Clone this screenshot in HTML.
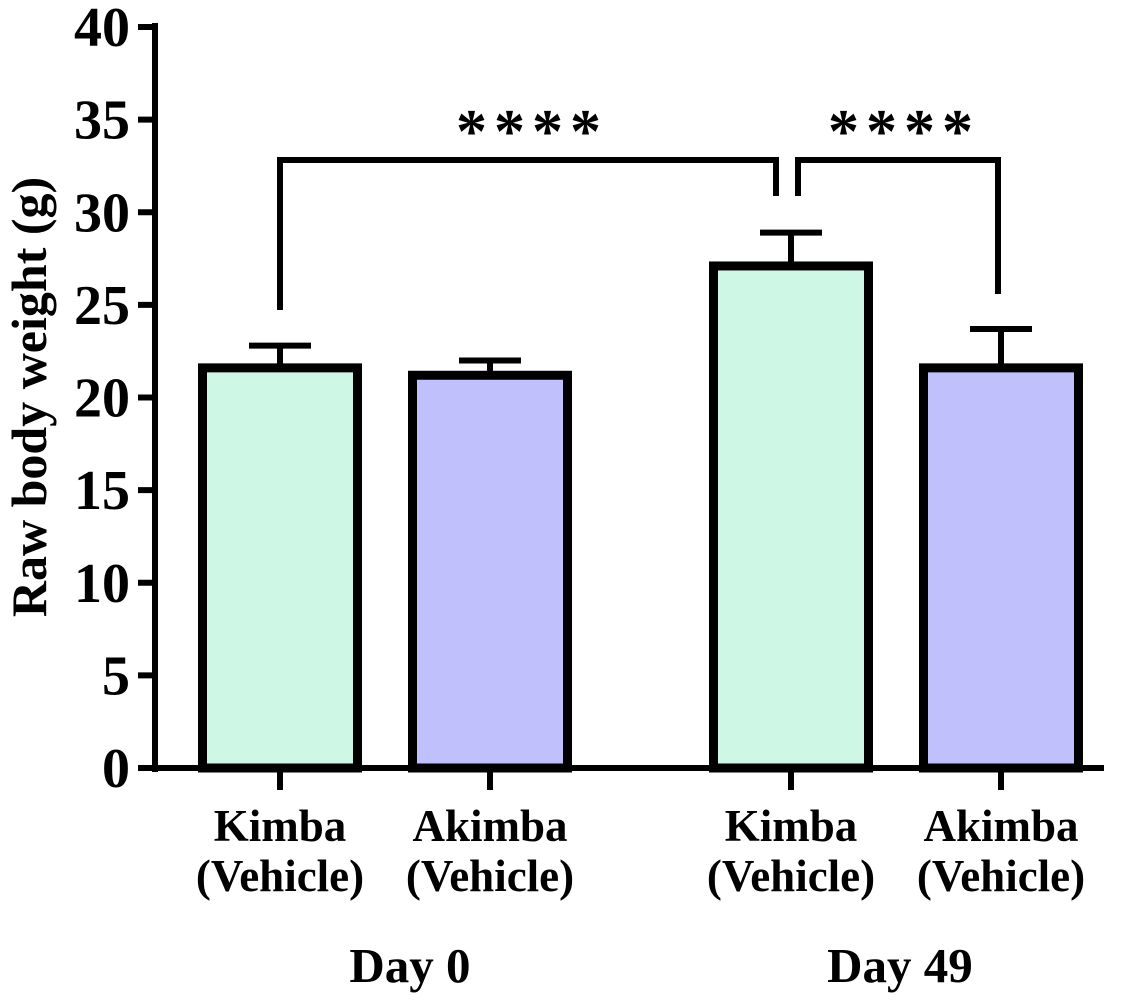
<!DOCTYPE html>
<html><head><meta charset="utf-8"><style>
html,body{margin:0;padding:0;background:#fff}
svg{display:block;font-family:"Liberation Serif",serif;font-weight:bold}
</style></head><body>
<svg id="chart" width="1146" height="1001" viewBox="0 0 1146 1001">
<g id="axes"></g><g id="bars"></g><g id="ann"></g>
</svg>
<script>
const categories = ["Kimba (Vehicle)", "Akimba (Vehicle)", "Kimba (Vehicle)", "Akimba (Vehicle)"];
const groups = ["Day 0", "Day 49"];
const means = [21.6, 21.2, 27.1, 21.6];
const errors = [1.2, 0.8, 1.8, 2.1];
const yTicks = [0, 5, 10, 15, 20, 25, 30, 35, 40];
const fills = ["#cef7e6", "#c0c0fd", "#cef7e6", "#c0c0fd"];
const ns = "http://www.w3.org/2000/svg";
const y0 = 768, yTop = 27, yMax = 40;
const y = v => y0 - v * (y0 - yTop) / yMax;
const centers = [280, 490, 791, 1001];
const barW = 164;
function mk(tag, attrs, parent, text) {
  const e = document.createElementNS(ns, tag);
  for (const k in attrs) e.setAttribute(k, attrs[k]);
  if (text !== undefined) e.textContent = text;
  parent.appendChild(e);
  return e;
}
const ax = document.getElementById('axes'), bg = document.getElementById('bars'), an = document.getElementById('ann');
let e = mk('line', {x1:155, y1:y0+4, x2:155, y2:yTop-4, stroke:'#000','stroke-width':6}, ax);


e = mk('line', {x1:152, y1:y0, x2:1104, y2:y0, stroke:'#000','stroke-width':6}, ax);


yTicks.forEach(t => {
  mk('line', {x1:138, y1:y(t), x2:155, y2:y(t), stroke:'#000','stroke-width':6}, ax);
  const l = mk('text', {x:130, y:y(t)+19, 'text-anchor':'end','font-size':56}, ax, t);
  
  
});
e = mk('text', {x:0, y:0, transform:'translate(46,397) rotate(-90)', 'text-anchor':'middle','font-size':50}, ax, 'Raw body weight (g)');


means.forEach((m, i) => {
  const cx = centers[i];
  const top = y(m + errors[i]);
  const eb = mk('path', {d:`M${cx},${y(m)} V${top} M${cx-31},${top} H${cx+31}`, stroke:'#000','stroke-width':6, fill:'none'}, bg);
  
  
  const r = mk('rect', {x:cx-barW/2+4.5, y:y(m), width:barW-9, height:y0-y(m), fill:fills[i], stroke:'#000','stroke-width':9}, bg);
  
  
  mk('line', {x1:cx, y1:y0, x2:cx, y2:790, stroke:'#000','stroke-width':6}, ax);
  const parts = categories[i].split(' ');
  const t1 = mk('text', {x:cx, y:841, 'text-anchor':'middle','font-size':45}, ax, parts[0]);
  
  
  const t2 = mk('text', {x:cx, y:891, 'text-anchor':'middle','font-size':45}, ax, parts[1]);
  
  
});
groups.forEach((g, i) => {
  const gx = [410, 900][i];
  const t = mk('text', {x:gx, y:982, 'text-anchor':'middle','font-size':49}, ax, g);
  
  
});
e = mk('path', {d:'M280,310 V160 H776 V196', stroke:'#000','stroke-width':6, fill:'none'}, an);


e = mk('path', {d:'M798,196 V160 H998 V294', stroke:'#000','stroke-width':6, fill:'none'}, an);


e = mk('text', {x:532, y:152, 'text-anchor':'middle','font-size':62,'letter-spacing':7}, an, '****');


e = mk('text', {x:904, y:152, 'text-anchor':'middle','font-size':62,'letter-spacing':7}, an, '****');


</script>
</body></html>
